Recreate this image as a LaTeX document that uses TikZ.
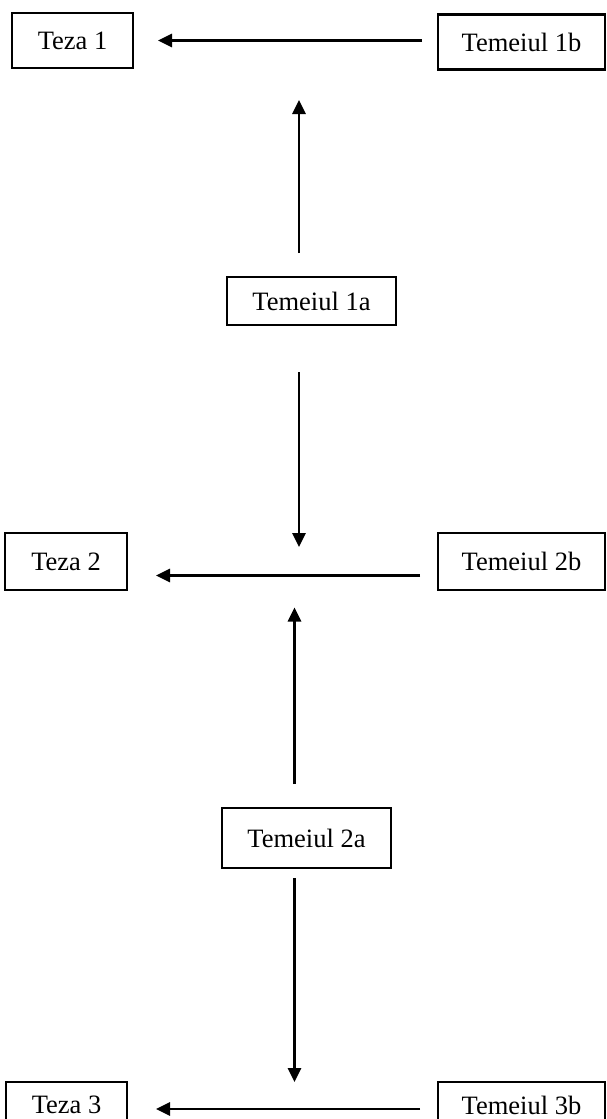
\documentclass[tikz,border=0pt]{standalone}
\usepackage{fontspec}
\setmainfont{Liberation Serif}
\usetikzlibrary{arrows.meta}
\begin{document}
\begin{tikzpicture}[x=1pt,y=-1pt,
  box/.style={draw, line width=2.2pt, inner sep=0pt, outer sep=0pt,
    font=\fontsize{26.5}{30}\selectfont},
  arr/.style={line width=2.8pt, -{Triangle[length=14pt,width=13pt]}}]
\useasboundingbox (0,0) rectangle (606,1119);
\clip (0,0) rectangle (606,1119);

% theses on the left, grounds on the right and in the middle
\node[box, minimum width=121pt, minimum height=55pt] (t1) at (72.5,40.5) {Teza 1};
\node[box, minimum width=167pt, minimum height=55pt] (b1) at (521.5,42) {Temeiul 1b};
\node[box, minimum width=169pt, minimum height=48pt] (a1) at (311.5,301) {Temeiul 1a};
\node[box, minimum width=122pt, minimum height=57pt] (t2) at (66,561.5) {Teza 2};
\node[box, minimum width=167pt, minimum height=57pt] (b2) at (521.5,561.5) {Temeiul 2b};
\node[box, minimum width=169pt, minimum height=60pt] (a2) at (306.5,838) {Temeiul 2a};
\node[box, minimum width=121pt, minimum height=46pt] (t3) at (66.5,1105) {Teza 3};
\node[box, minimum width=167pt, minimum height=46pt] (b3) at (521.5,1105) {Temeiul 3b};

% free ends of the vertical arrows
\coordinate (p1) at (299,100);
\coordinate (p2) at (299,547);
\coordinate (p3) at (294.5,607.5);
\coordinate (p4) at (294.5,1082);

% horizontal arrows: ground -> thesis
\draw[arr] ([xshift=-16pt,yshift=1.5pt]b1.west) -- ([xshift=25pt]t1.east);
\draw[arr] ([xshift=-18pt,yshift=-14pt]b2.west) -- ([xshift=29pt,yshift=-14pt]t2.east);
\draw[arr] ([xshift=-18pt,yshift=-4pt]b3.west) -- ([xshift=29pt,yshift=-4pt]t3.east);

% vertical arrows from the middle grounds
\draw[arr] ([xshift=-12.5pt,yshift=24pt]a1.north) -- (p1);
\draw[arr] ([xshift=-12.5pt,yshift=-47pt]a1.south) -- (p2);
\draw[arr] ([xshift=-12pt,yshift=24pt]a2.north) -- (p3);
\draw[arr] ([xshift=-12pt,yshift=-10pt]a2.south) -- (p4);
\end{tikzpicture}
\end{document}
